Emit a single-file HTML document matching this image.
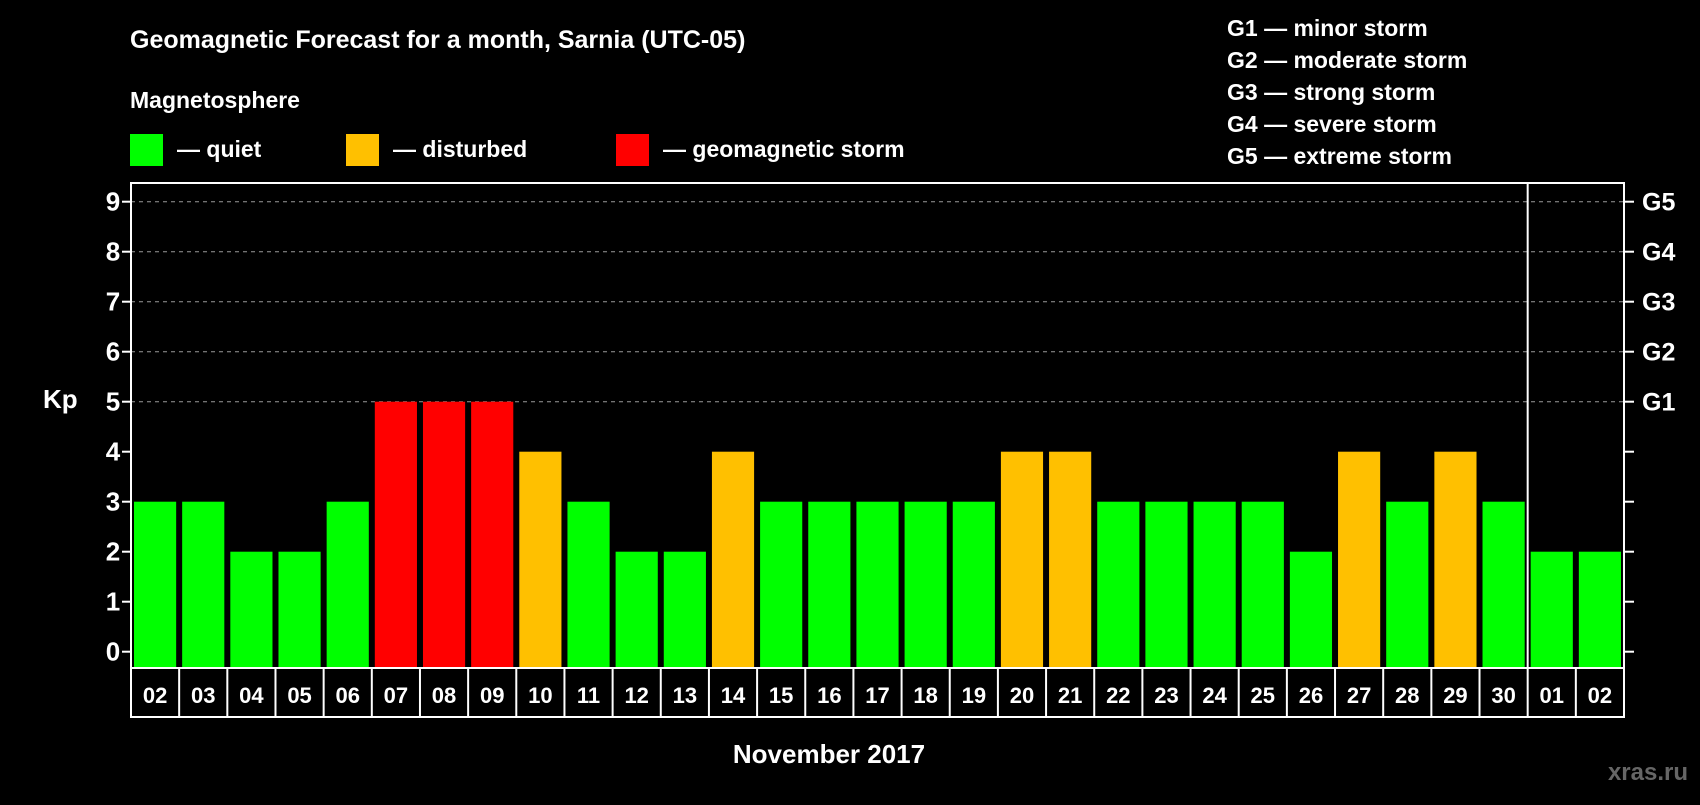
<!DOCTYPE html>
<html><head><meta charset="utf-8"><style>
body{margin:0;background:#000;width:1700px;height:800px;overflow:hidden;font-family:"Liberation Sans",sans-serif;font-weight:bold;color:#fff}
text{font-family:"Liberation Sans",sans-serif;font-weight:bold;fill:#fff}
</style></head><body>
<svg id="c" width="1700" height="800">
<text x="130" y="48" font-size="25">Geomagnetic Forecast for a month, Sarnia (UTC-05)</text>
<text x="130" y="108" font-size="23">Magnetosphere</text>
<rect x="130" y="134" width="33" height="32" fill="#00ff00"/>
<text x="177" y="157" font-size="23">— quiet</text>
<rect x="346" y="134" width="33" height="32" fill="#ffc000"/>
<text x="393" y="157" font-size="23">— disturbed</text>
<rect x="616" y="134" width="33" height="32" fill="#ff0000"/>
<text x="663" y="157" font-size="23">— geomagnetic storm</text>
<g font-size="23">
<text x="1227" y="36">G1 — minor storm</text>
<text x="1227" y="68">G2 — moderate storm</text>
<text x="1227" y="100">G3 — strong storm</text>
<text x="1227" y="132">G4 — severe storm</text>
<text x="1227" y="164">G5 — extreme storm</text>
</g>
<text x="43" y="408" font-size="26">Kp</text>
<text x="829" y="763" font-size="26" text-anchor="middle">November 2017</text>
<text x="1688" y="780" font-size="24" text-anchor="end" style="fill:#666">xras.ru</text>
<g id="plot"></g>
</svg>
<script>
const categories=["02","03","04","05","06","07","08","09","10","11","12","13","14","15","16","17","18","19","20","21","22","23","24","25","26","27","28","29","30","01","02"];
const kpValues=[3,3,2,2,3,5,5,5,4,3,2,2,4,3,3,3,3,3,4,4,3,3,3,3,2,4,3,4,3,2,2];
const yTicks=[0,1,2,3,4,5,6,7,8,9];
const gLabels=["","","","","","G1","G2","G3","G4","G5"];
const L=131,R=1624,T=183,B=668,Y0=651.7,U=50,LB=717;
const n=categories.length,step=(R-L)/n;
const y=v=>Y0-v*U, x=i=>L+i*step;
const NS="http://www.w3.org/2000/svg",g=document.getElementById('plot');
function mk(t,a){const e=document.createElementNS(NS,t);for(const k in a)e.setAttribute(k,a[k]);g.appendChild(e);return e;}
yTicks.forEach((v,i)=>{
 if(v>=5){const gl=mk('line',{x1:L,x2:R,y1:y(v),y2:y(v),stroke:'#999','stroke-width':1,'stroke-dasharray':'4,4'});
 
 }
 const t1=mk('line',{x1:L-9,x2:L,y1:y(v),y2:y(v),stroke:'#fff','stroke-width':2});
 
 
 const t2=mk('line',{x1:R,x2:R+10,y1:y(v),y2:y(v),stroke:'#fff','stroke-width':2});
 
 
 const tl=mk('text',{x:113,y:y(v)+9,'font-size':26,'text-anchor':'middle'});tl.textContent=v;
 
 
 if(gLabels[i]){const gt=mk('text',{x:1642,y:y(v)+9,'font-size':25});gt.textContent=gLabels[i];
 
 }
});
kpValues.forEach((v,i)=>{
 const c=v>=5?'#ff0000':v>=4?'#ffc000':'#00ff00';
 const b=mk('rect',{x:x(i)+3,y:y(v),width:step-6,height:B-y(v),fill:c});
 
 
 const tx=mk('text',{x:x(i)+step/2,y:B+35,'font-size':22,'text-anchor':'middle'});tx.textContent=categories[i];
 
 
 if(i>0){const d=mk('line',{x1:x(i),x2:x(i),y1:B,y2:LB,stroke:'#fff','stroke-width':2});
 
 }
});
const sep=mk('line',{x1:x(29),x2:x(29),y1:T,y2:B,stroke:'#fff','stroke-width':2});


const fr=mk('rect',{x:L,y:T,width:R-L,height:LB-T,fill:'none',stroke:'#fff','stroke-width':2});


const bl=mk('line',{x1:L,x2:R,y1:B,y2:B,stroke:'#fff','stroke-width':2});


</script>
</body></html>
